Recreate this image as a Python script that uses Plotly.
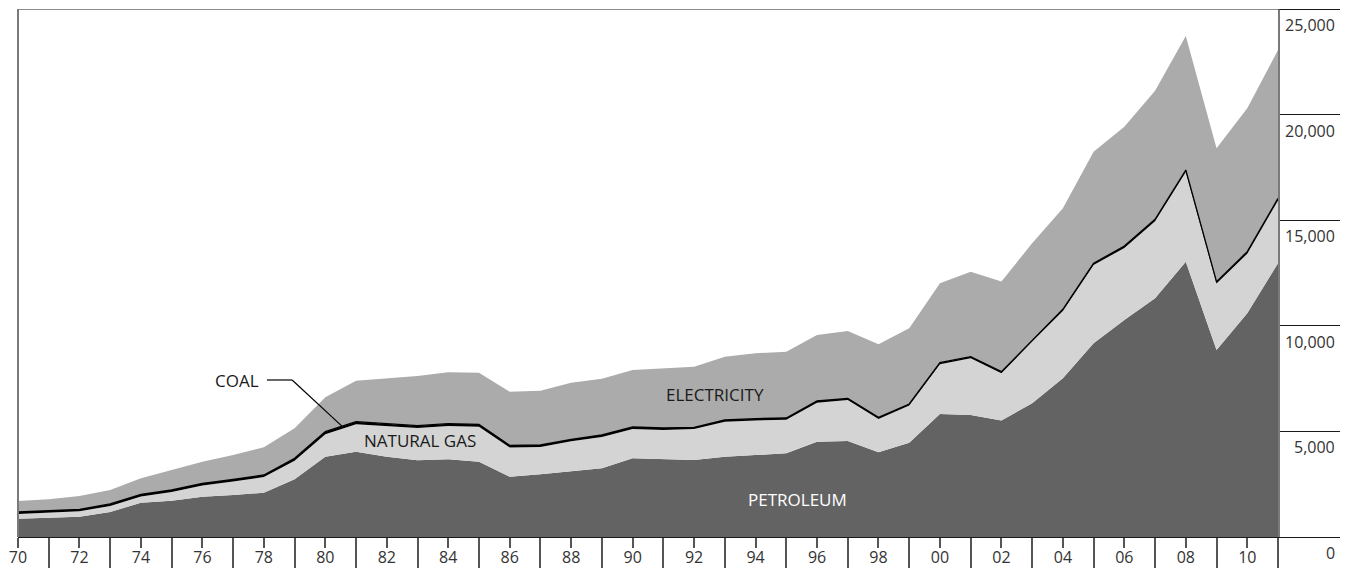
import plotly.graph_objects as go

years = list(range(1970, 2012))

petroleum = [866, 932, 962, 1184, 1625, 1720, 1910, 1989, 2099, 2730,
             3804, 4041, 3804, 3630, 3678, 3567, 2856, 2967, 3093, 3251,
             3725, 3678, 3646, 3804, 3883, 3962, 4514, 4546, 4009, 4467,
             5824, 5777, 5520, 6329, 7513, 9170, 10275, 11301, 13037, 8854,
             10591, 12958]
natural_gas = [228, 209, 258, 284, 295, 405, 531, 641, 737, 885,
               1063, 1300, 1458, 1527, 1573, 1658, 1384, 1294, 1437, 1484,
               1389, 1392, 1462, 1651, 1635, 1593, 1846, 1940, 1582, 1756,
               2350, 2681, 2233, 2924, 3187, 3703, 3414, 3650, 4240, 3146,
               2824, 2977]
coal = [90, 90, 90, 95, 100, 100, 100, 100, 100, 110,
        120, 120, 120, 115, 115, 110, 100, 95, 95, 95,
        95, 90, 85, 85, 85, 80, 80, 80, 75, 75,
        80, 80, 75, 75, 80, 85, 90, 90, 100, 90,
        95, 100]
electricity = [521, 552, 631, 662, 758, 947, 1026, 1153, 1310, 1421,
               1627, 1940, 2131, 2351, 2431, 2446, 2542, 2573, 2683, 2667,
               2698, 2826, 2872, 2998, 3094, 3141, 3125, 3188, 3457, 3583,
               3758, 4025, 4272, 4577, 4782, 5288, 5651, 6094, 6346, 6314,
               6787, 7024]

x_tick_vals = list(range(1970, 2012, 2))
x_tick_text = ["70", "72", "74", "76", "78", "80", "82", "84", "86", "88",
               "90", "92", "94", "96", "98", "00", "02", "04", "06", "08", "10"]
x_minor_vals = list(range(1971, 2012, 2))
y_tick_vals = [0, 5000, 10000, 15000, 20000, 25000]
y_tick_text = ["0", "5,000", "10,000", "15,000", "20,000", "25,000"]

FONT = "Open Sans"

fig = go.Figure()
fig.add_trace(go.Scatter(x=years, y=petroleum, name="PETROLEUM", stackgroup="s",
                         mode="lines", line=dict(width=0, color="#636363"),
                         fillcolor="#636363", hoverinfo="skip"))
fig.add_trace(go.Scatter(x=years, y=natural_gas, name="NATURAL GAS", stackgroup="s",
                         mode="lines", line=dict(width=0, color="#d4d4d4"),
                         fillcolor="#d4d4d4", hoverinfo="skip"))
fig.add_trace(go.Scatter(x=years, y=coal, name="COAL", stackgroup="s",
                         mode="lines", line=dict(width=1.3, color="#000000"),
                         fillcolor="#000000", hoverinfo="skip"))
fig.add_trace(go.Scatter(x=years, y=electricity, name="ELECTRICITY", stackgroup="s",
                         mode="lines", line=dict(width=0, color="#ababab"),
                         fillcolor="#ababab", hoverinfo="skip"))

annotations = []
for v, t in zip(y_tick_vals, y_tick_text):
    annotations.append(dict(x=1, xref="paper", y=v, yref="y", text=t,
                            showarrow=False, xanchor="right", yanchor="top",
                            xshift=59, yshift=-3,
                            font=dict(family=FONT, size=16, color="#333333")))

label_font = dict(family=FONT, size=17, color="#1a1a1a")
annotations += [
    dict(x=1977.91, y=7387, text="COAL", showarrow=False, xanchor="right",
         yanchor="middle", font=label_font),
    dict(x=1983.07, y=4593, text="NATURAL GAS", showarrow=False, xanchor="center",
         yanchor="middle", font=label_font),
    dict(x=1992.67, y=6771, text="ELECTRICITY", showarrow=False, xanchor="center",
         yanchor="middle", font=label_font),
    dict(x=1995.35, y=1799, text="PETROLEUM", showarrow=False, xanchor="center",
         yanchor="middle", font=dict(family=FONT, size=17, color="#ffffff")),
]

shapes = [
    # top frame line
    dict(type="line", xref="paper", yref="y", x0=0, x1=1 + 60 / 1260, y0=25000, y1=25000,
         line=dict(color="#1a1a1a", width=1.2)),
    # left vertical line
    dict(type="line", xref="paper", yref="y", x0=0, x1=0, y0=0, y1=25000,
         line=dict(color="#7a7a7a", width=2)),
    # COAL leader line
    dict(type="line", xref="x", yref="y", x0=1978.10, x1=1978.92, y0=7434, y1=7434,
         line=dict(color="#000000", width=1.2)),
    dict(type="line", xref="x", yref="y", x0=1978.92, x1=1980.54, y0=7434, y1=5250,
         line=dict(color="#000000", width=1.2)),
]

fig.update_layout(
    width=1355, height=569,
    margin=dict(l=18, r=77, t=9, b=32, autoexpand=False),
    paper_bgcolor="white", plot_bgcolor="white",
    showlegend=False,
    annotations=annotations,
    shapes=shapes,
    xaxis=dict(range=[1970, 2011], showgrid=False, zeroline=False, automargin=False,
               showline=True, linecolor="#1a1a1a", linewidth=1.2,
               tickmode="array", tickvals=x_tick_vals, ticktext=x_tick_text,
               ticks="outside", ticklen=10, tickwidth=1.5, tickcolor="#555555",
               ticklabelstandoff=-4,
               tickfont=dict(family=FONT, size=16, color="#333333"),
               minor=dict(tickmode="array", tickvals=x_minor_vals, ticks="outside",
                          ticklen=30, tickwidth=1.5, tickcolor="#555555")),
    yaxis=dict(range=[0, 25000], side="right", showgrid=False, zeroline=False,
               automargin=False,
               showline=True, linecolor="#7a7a7a", linewidth=2,
               tickmode="array", tickvals=y_tick_vals, ticks="outside",
               ticklen=60, tickwidth=1.2, tickcolor="#1a1a1a",
               showticklabels=False),
)

fig.write_html("out.html", config={"displayModeBar": False},
               post_script="document.body.style.margin='0';document.body.style.overflow='hidden';")
